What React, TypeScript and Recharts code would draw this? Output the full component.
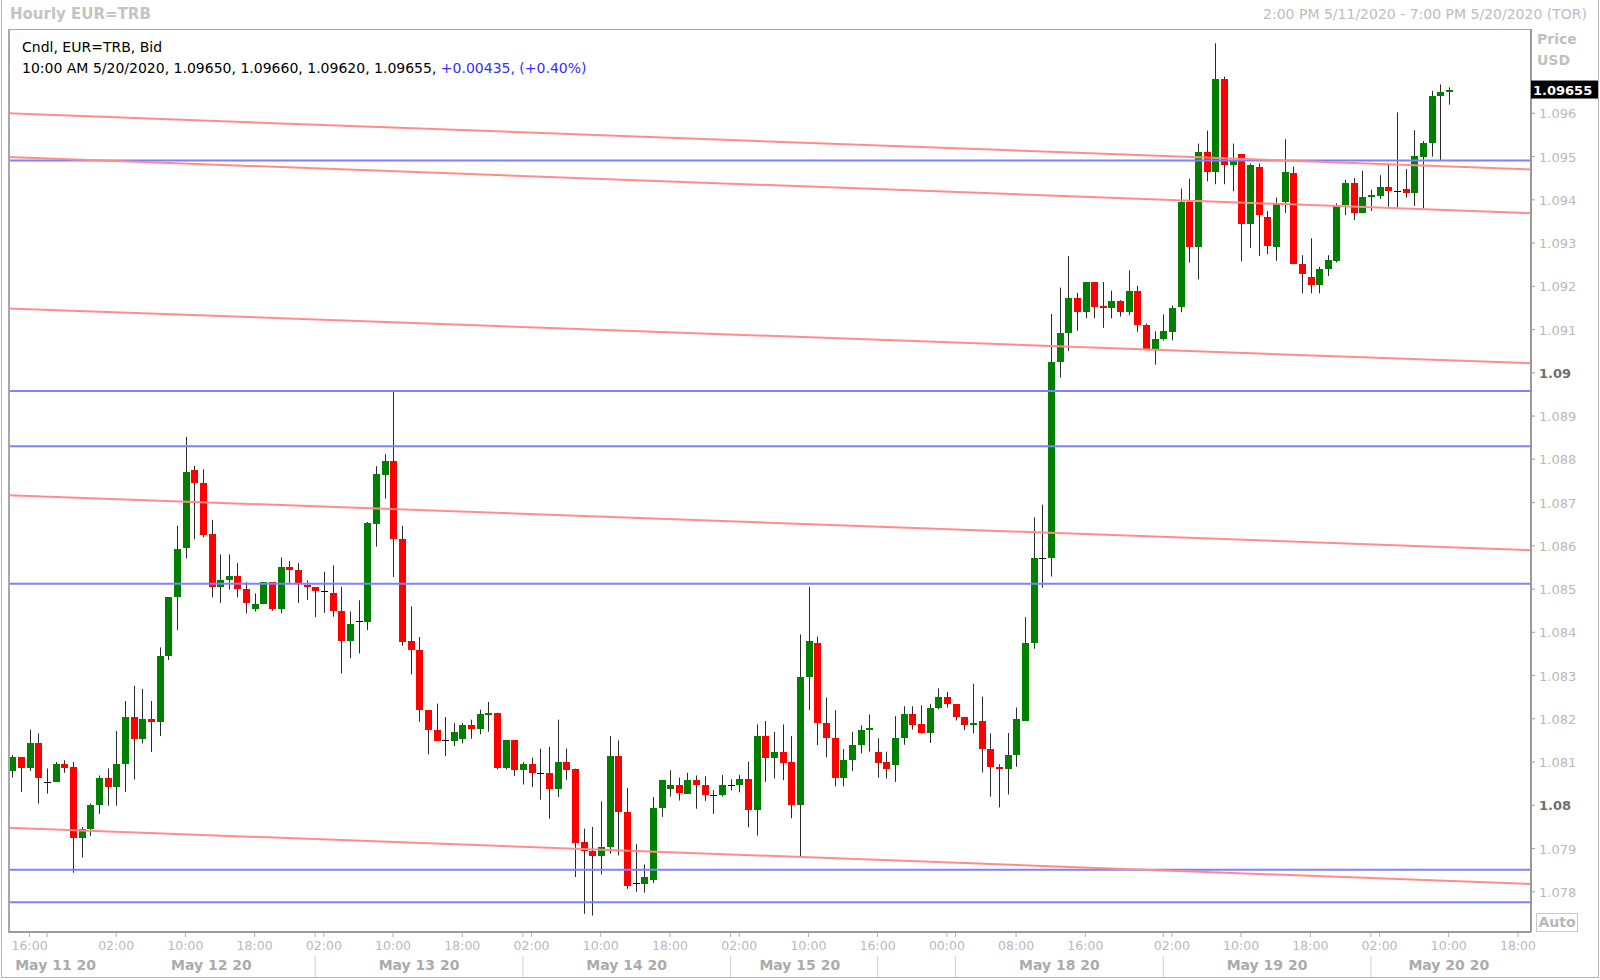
import React from 'react';
import { ComposedChart, Bar, XAxis, YAxis, ReferenceLine } from 'recharts';

// ---------- data ----------
const opens = [
  1.08079, 1.08111, 1.08087, 1.08143, 1.08055, 1.08055, 1.08095, 1.08089, 1.07925, 1.07946,
  1.08000, 1.08064, 1.08043, 1.08095, 1.08205, 1.08154, 1.08199, 1.08193, 1.08345, 1.08481,
  1.08594, 1.08775, 1.08745, 1.08627, 1.08505, 1.08520, 1.08530, 1.08500, 1.08453, 1.08465,
  1.08516, 1.08453, 1.08550, 1.08544, 1.08510, 1.08505, 1.08496, 1.08490, 1.08449, 1.08380,
  1.08426, 1.08424, 1.08650, 1.08763, 1.08796, 1.08615, 1.08379, 1.08360, 1.08220, 1.08175,
  1.08150, 1.08149, 1.08154, 1.08185, 1.08177, 1.08210, 1.08214, 1.08087, 1.08150, 1.08082,
  1.08095, 1.08075, 1.08075, 1.08038, 1.08100, 1.08085, 1.07914, 1.07894, 1.07883, 1.07904,
  1.08115, 1.07984, 1.07820, 1.07819, 1.07828, 1.07994, 1.08038, 1.08048, 1.08027, 1.08059,
  1.08048, 1.08024, 1.08024, 1.08048, 1.08048, 1.08060, 1.07989, 1.08160, 1.08110, 1.08124,
  1.08099, 1.08000, 1.08296, 1.08376, 1.08190, 1.08155, 1.08064, 1.08104, 1.08140, 1.08174,
  1.08124, 1.08099, 1.08094, 1.08155, 1.08210, 1.08187, 1.08166, 1.08226, 1.08250, 1.08234,
  1.08204, 1.08185, 1.08196, 1.08131, 1.08089, 1.08084, 1.08117, 1.08196, 1.08375, 1.08572,
  1.08572, 1.09025, 1.09091, 1.09174, 1.09140, 1.09209, 1.09155, 1.09150, 1.09166, 1.09140,
  1.09190, 1.09110, 1.09056, 1.09079, 1.09095, 1.09153, 1.09396, 1.09291, 1.09511, 1.09465,
  1.09680, 1.09480, 1.09505, 1.09345, 1.09476, 1.09361, 1.09290, 1.09394, 1.09461, 1.09251,
  1.09221, 1.09204, 1.09241, 1.09259, 1.09388, 1.09438, 1.09370, 1.09406, 1.09409, 1.09430,
  1.09420, 1.09425, 1.09416, 1.09500, 1.09531, 1.09640, 1.09650,
];
const highs = [
  1.08116, 1.08111, 1.08175, 1.08166, 1.08085, 1.08100, 1.08104, 1.08100, 1.07950, 1.08004,
  1.08069, 1.08085, 1.08172, 1.08241, 1.08276, 1.08269, 1.08241, 1.08365, 1.08481, 1.08646,
  1.08852, 1.08785, 1.08777, 1.08660, 1.08580, 1.08580, 1.08560, 1.08516, 1.08490, 1.08516,
  1.08516, 1.08573, 1.08565, 1.08560, 1.08520, 1.08505, 1.08540, 1.08555, 1.08505, 1.08448,
  1.08474, 1.08655, 1.08784, 1.08812, 1.08956, 1.08646, 1.08460, 1.08389, 1.08220, 1.08235,
  1.08204, 1.08190, 1.08190, 1.08198, 1.08221, 1.08239, 1.08214, 1.08150, 1.08150, 1.08100,
  1.08110, 1.08131, 1.08135, 1.08198, 1.08131, 1.08085, 1.07946, 1.07950, 1.08009, 1.08160,
  1.08150, 1.08040, 1.07910, 1.07863, 1.08019, 1.08059, 1.08081, 1.08064, 1.08075, 1.08069,
  1.08067, 1.08035, 1.08070, 1.08060, 1.08070, 1.08101, 1.08187, 1.08195, 1.08170, 1.08187,
  1.08160, 1.08395, 1.08505, 1.08390, 1.08249, 1.08220, 1.08130, 1.08170, 1.08185, 1.08210,
  1.08155, 1.08124, 1.08206, 1.08229, 1.08229, 1.08231, 1.08234, 1.08270, 1.08262, 1.08234,
  1.08204, 1.08281, 1.08251, 1.08166, 1.08095, 1.08167, 1.08226, 1.08435, 1.08666, 1.08695,
  1.09136, 1.09197, 1.09270, 1.09185, 1.09209, 1.09209, 1.09210, 1.09190, 1.09168, 1.09237,
  1.09201, 1.09114, 1.09096, 1.09135, 1.09156, 1.09426, 1.09449, 1.09530, 1.09560, 1.09762,
  1.09685, 1.09530, 1.09505, 1.09484, 1.09484, 1.09374, 1.09405, 1.09540, 1.09477, 1.09272,
  1.09311, 1.09245, 1.09272, 1.09392, 1.09446, 1.09450, 1.09467, 1.09423, 1.09457, 1.09484,
  1.09602, 1.09471, 1.09561, 1.09536, 1.09652, 1.09667, 1.09660,
];
const lows = [
  1.08064, 1.08031, 1.08079, 1.08004, 1.08027, 1.08055, 1.08075, 1.07844, 1.07879, 1.07929,
  1.07980, 1.07999, 1.07999, 1.08031, 1.08060, 1.08143, 1.08123, 1.08160, 1.08336, 1.08405,
  1.08571, 1.08615, 1.08620, 1.08481, 1.08468, 1.08499, 1.08481, 1.08444, 1.08448, 1.08465,
  1.08450, 1.08444, 1.08513, 1.08468, 1.08475, 1.08435, 1.08445, 1.08436, 1.08305, 1.08340,
  1.08351, 1.08405, 1.08598, 1.08709, 1.08528, 1.08369, 1.08303, 1.08193, 1.08118, 1.08149,
  1.08114, 1.08137, 1.08143, 1.08154, 1.08164, 1.08170, 1.08083, 1.08083, 1.08068, 1.08048,
  1.08042, 1.08013, 1.07969, 1.08019, 1.08059, 1.07834, 1.07749, 1.07745, 1.07840, 1.07888,
  1.07884, 1.07807, 1.07800, 1.07798, 1.07820, 1.07973, 1.08020, 1.08011, 1.08027, 1.07992,
  1.08010, 1.07980, 1.08020, 1.08034, 1.08030, 1.07949, 1.07930, 1.08054, 1.08062, 1.08058,
  1.07970, 1.07881, 1.08220, 1.08139, 1.08111, 1.08044, 1.08044, 1.08079, 1.08120, 1.08124,
  1.08064, 1.08062, 1.08054, 1.08140, 1.08175, 1.08166, 1.08144, 1.08222, 1.08226, 1.08196,
  1.08174, 1.08166, 1.08076, 1.08020, 1.07995, 1.08025, 1.08089, 1.08196, 1.08362, 1.08503,
  1.08529, 1.08989, 1.09050, 1.09097, 1.09126, 1.09126, 1.09104, 1.09126, 1.09130, 1.09133,
  1.09095, 1.09056, 1.09019, 1.09075, 1.09075, 1.09140, 1.09255, 1.09216, 1.09443, 1.09436,
  1.09436, 1.09420, 1.09258, 1.09289, 1.09270, 1.09274, 1.09259, 1.09370, 1.09251, 1.09184,
  1.09184, 1.09184, 1.09224, 1.09255, 1.09365, 1.09353, 1.09369, 1.09374, 1.09402, 1.09384,
  1.09382, 1.09405, 1.09386, 1.09380, 1.09500, 1.09492, 1.09620,
];
const closes = [
  1.08111, 1.08087, 1.08143, 1.08064, 1.08055, 1.08095, 1.08087, 1.07925, 1.07946, 1.08001,
  1.08064, 1.08043, 1.08095, 1.08205, 1.08154, 1.08199, 1.08193, 1.08345, 1.08481, 1.08592,
  1.08770, 1.08745, 1.08625, 1.08505, 1.08520, 1.08530, 1.08499, 1.08468, 1.08465, 1.08516,
  1.08453, 1.08550, 1.08544, 1.08513, 1.08505, 1.08496, 1.08496, 1.08449, 1.08380, 1.08419,
  1.08426, 1.08652, 1.08765, 1.08796, 1.08615, 1.08378, 1.08359, 1.08220, 1.08173, 1.08149,
  1.08150, 1.08170, 1.08185, 1.08177, 1.08210, 1.08214, 1.08087, 1.08150, 1.08082, 1.08095,
  1.08075, 1.08075, 1.08038, 1.08100, 1.08082, 1.07913, 1.07894, 1.07883, 1.07904, 1.08115,
  1.07984, 1.07813, 1.07820, 1.07834, 1.07994, 1.08059, 1.08048, 1.08028, 1.08059, 1.08048,
  1.08024, 1.08024, 1.08048, 1.08048, 1.08060, 1.07989, 1.08160, 1.08110, 1.08124, 1.08098,
  1.08000, 1.08296, 1.08380, 1.08190, 1.08155, 1.08064, 1.08104, 1.08140, 1.08174, 1.08178,
  1.08098, 1.08083, 1.08155, 1.08210, 1.08186, 1.08166, 1.08226, 1.08250, 1.08234, 1.08204,
  1.08185, 1.08190, 1.08130, 1.08089, 1.08084, 1.08117, 1.08200, 1.08375, 1.08572, 1.08572,
  1.09025, 1.09091, 1.09174, 1.09140, 1.09209, 1.09153, 1.09149, 1.09166, 1.09140, 1.09190,
  1.09110, 1.09056, 1.09079, 1.09096, 1.09150, 1.09396, 1.09291, 1.09511, 1.09465, 1.09680,
  1.09480, 1.09490, 1.09345, 1.09480, 1.09365, 1.09294, 1.09390, 1.09465, 1.09251, 1.09228,
  1.09204, 1.09241, 1.09260, 1.09388, 1.09438, 1.09370, 1.09406, 1.09411, 1.09430, 1.09420,
  1.09420, 1.09416, 1.09501, 1.09531, 1.09640, 1.09650, 1.09655,
];

// number of hourly slots on the axis (candles + empty future slots)
const SLOT_COUNT = 176;

const timeTickIdx = [2, 12, 20, 28, 36, 44, 52, 60, 68, 76, 84, 92, 100, 108, 116, 124, 134, 142, 150, 158, 166, 174];
const timeTickLabels = ['16:00', '02:00', '10:00', '18:00', '02:00', '10:00', '18:00', '02:00', '10:00', '18:00', '02:00', '10:00', '16:00', '00:00', '08:00', '16:00', '02:00', '10:00', '18:00', '02:00', '10:00', '18:00'];
const sessionTickIdx = [4, 35, 59, 83, 100, 109, 133, 157];
const daySeparatorIdx = [35, 59, 83, 100, 109, 133, 157];
const dateLabelIdx = [5, 23, 47, 71, 91, 121, 145, 166];
const dateLabels = ['May 11 20', 'May 12 20', 'May 13 20', 'May 14 20', 'May 15 20', 'May 18 20', 'May 19 20', 'May 20 20'];

const priceTicks = [1.078, 1.079, 1.08, 1.081, 1.082, 1.083, 1.084, 1.085, 1.086, 1.087, 1.088, 1.089, 1.09, 1.091, 1.092, 1.093, 1.094, 1.095, 1.096];
const boldPriceTicks = [1.08, 1.09];
const priceDomain = [1.07707, 1.09795];

const blueLevels = [1.09491, 1.08958, 1.0883, 1.08512, 1.07851, 1.07776];
const redLineStart = [1.096, 1.09499, 1.09149, 1.08717, 1.07948];
const redLineEnd = [1.0947, 1.09369, 1.09022, 1.0859, 1.07818];

const lastIdx = closes.length - 1;
const lastClose = closes[lastIdx];

// ---------- derived table ----------
const rows = Array.from({ length: SLOT_COUNT }, (_, i) =>
  i < opens.length
    ? { i, range: [lows[i], highs[i]], o: opens[i], h: highs[i], l: lows[i], c: closes[i] }
    : { i, range: null }
);

const FONT = "'DejaVu Sans', Verdana, sans-serif";
const GREEN = '#008000';
const RED = '#ff0000';
const BLUE_LINE = '#7f7fff';
const RED_LINE = '#ff8c8c';

const Candle = (props: any) => {
  const { x, y, width, height, payload } = props;
  if (!payload || payload.o == null) return null;
  const { o, h, l, c } = payload;
  const top = Math.min(y, y + height);
  const bottom = Math.max(y, y + height);
  const span = h - l;
  const toPx = (v: number) => (span > 0 ? top + ((h - v) / span) * (bottom - top) : top);
  const cx = Math.round(x + width / 2);
  const bTop = Math.round(toPx(Math.max(o, c)));
  const bBot = Math.round(toPx(Math.min(o, c)));
  const flat = Math.abs(c - o) < 0.00003;
  return (
    <g>
      <line x1={cx + 0.5} x2={cx + 0.5} y1={top} y2={bottom} stroke="#2a2a2a" strokeWidth={1} />
      {flat ? (
        <rect x={cx - 3} y={bTop} width={7} height={1} fill="#000" />
      ) : (
        <rect x={cx - 3} y={bTop} width={7} height={Math.max(2, bBot - bTop)} fill={c >= o ? GREEN : RED} />
      )}
    </g>
  );
};

// one axis below the plot carries both rows: hours and dates
const AxisTick = (props: any) => {
  const { x, y, payload } = props;
  const v = payload.value;
  const tk = timeTickIdx.indexOf(v);
  const dk = dateLabelIdx.indexOf(v);
  const isTickMark = tk >= 0 || sessionTickIdx.includes(v);
  const isSep = daySeparatorIdx.includes(v);
  return (
    <g>
      {isTickMark && <line x1={x} x2={x} y1={y + 1} y2={y + 5} stroke="#b0b0b0" />}
      {tk >= 0 && (
        <text x={x} y={y + 18} textAnchor="middle" fontFamily={FONT} fontSize={12.5} fill="#b9b9b9">
          {timeTickLabels[tk]}
        </text>
      )}
      {isSep && <line x1={x} x2={x} y1={y + 24} y2={y + 45} stroke="#d0d0d0" />}
      {dk >= 0 && (
        <text x={x} y={y + 38} textAnchor="middle" fontFamily={FONT} fontSize={14} fontWeight="bold" fill="#ababab">
          {dateLabels[dk]}
        </text>
      )}
    </g>
  );
};

const PriceTick = (props: any) => {
  const { x, y, payload } = props;
  const v = payload.value;
  if (v === lastClose) {
    return (
      <g>
        <rect x={x} y={y - 9} width={68} height={18} fill="#000" />
        <text x={x + 2} y={y + 5} fontFamily={FONT} fontSize={13} fontWeight="bold" fill="#fff">
          {v.toFixed(5)}
        </text>
      </g>
    );
  }
  const bold = boldPriceTicks.includes(v);
  return (
    <g>
      <line x1={x} x2={x + 4} y1={y} y2={y} stroke="#a0a0a0" />
      <text
        x={x + 8}
        y={y + 5}
        fontFamily={FONT}
        fontSize={13}
        fontWeight={bold ? 'bold' : 'normal'}
        fill={bold ? '#6e6e6e' : '#b9b9b9'}
      >
        {parseFloat(v.toFixed(3)).toString()}
      </text>
    </g>
  );
};

const fmt = (v: number) => v.toFixed(5);

export default function App() {
  const axisTicks = Array.from(
    new Set([...timeTickIdx, ...sessionTickIdx, ...daySeparatorIdx, ...dateLabelIdx])
  ).sort((a, b) => a - b);
  return (
    <div
      style={{
        position: 'absolute',
        left: 0,
        top: 0,
        width: 1600,
        height: 980,
        background: '#fff',
        fontFamily: FONT,
        overflow: 'hidden',
      }}
    >
      <ComposedChart width={1600} height={980} data={rows} margin={{ top: 29, right: 0, bottom: 0, left: 8 }}>
        <XAxis
          xAxisId="n"
          dataKey="i"
          type="number"
          domain={[-0.5, SLOT_COUNT - 0.5]}
          allowDataOverflow
          hide
          height={0}
        />
        <XAxis
          xAxisId="t"
          dataKey="i"
          type="category"
          ticks={axisTicks}
          interval={0}
          tick={<AxisTick />}
          tickSize={0}
          tickMargin={0}
          tickLine={false}
          height={48}
          axisLine={{ stroke: '#9a9a9a', strokeWidth: 2 }}
        />
        <YAxis
          orientation="right"
          type="number"
          width={69}
          domain={priceDomain}
          allowDataOverflow
          ticks={[...priceTicks, lastClose]}
          interval={0}
          tick={<PriceTick />}
          tickSize={0}
          tickMargin={0}
          tickLine={false}
          axisLine={{ stroke: '#9a9a9a', strokeWidth: 2 }}
        />
        <Bar xAxisId="t" dataKey="range" barSize={7} shape={<Candle />} isAnimationActive={false} />
        {blueLevels.map((v, k) => (
          <ReferenceLine key={'b' + k} xAxisId="n" y={v} stroke={BLUE_LINE} strokeWidth={2} />
        ))}
        {redLineStart.map((v, k) => (
          <ReferenceLine
            key={'r' + k}
            xAxisId="n"
            segment={[
              { x: -0.5, y: v },
              { x: SLOT_COUNT - 0.5, y: redLineEnd[k] },
            ]}
            stroke={RED_LINE}
            strokeWidth={2}
          />
        ))}
      </ComposedChart>

      {/* plot frame (left / top) */}
      <div
        style={{
          position: 'absolute',
          left: 8,
          top: 29,
          width: 1522,
          height: 902,
          borderLeft: '2px solid #a8a8a8',
          borderTop: '1px solid #a8a8a8',
          pointerEvents: 'none',
        }}
      />
      {/* outer frame */}
      <div
        style={{
          position: 'absolute',
          left: 1,
          top: 0,
          width: 1596,
          height: 977,
          border: '1px solid #b4b4b4',
          borderTop: 'none',
          pointerEvents: 'none',
        }}
      />

      <div style={{ position: 'absolute', left: 10, top: 5, fontSize: 15, fontWeight: 'bold', color: '#c3c3c3' }}>
        Hourly EUR=TRB
      </div>
      <div style={{ position: 'absolute', right: 13, top: 6, fontSize: 14, color: '#bdbdbd' }}>
        2:00 PM 5/11/2020 - 7:00 PM 5/20/2020 (TOR)
      </div>

      <div style={{ position: 'absolute', left: 22, top: 37, fontSize: 14, color: '#000', lineHeight: '21px' }}>
        <div>Cndl, EUR=TRB, Bid</div>
        <div>
          10:00 AM 5/20/2020, {fmt(opens[lastIdx])}, {fmt(highs[lastIdx])}, {fmt(lows[lastIdx])}, {fmt(closes[lastIdx])},{' '}
          <span style={{ color: '#3030ff' }}>+0.00435, (+0.40%)</span>
        </div>
      </div>

      <div style={{ position: 'absolute', left: 1537, top: 29, fontSize: 14, fontWeight: 'bold', color: '#c0c0c0', lineHeight: '21px' }}>
        <div>Price</div>
        <div>USD</div>
      </div>

      <div
        style={{
          position: 'absolute',
          left: 1536,
          top: 913,
          width: 40,
          height: 17,
          border: '1px solid #c8c8c8',
          fontSize: 14,
          fontWeight: 'bold',
          color: '#b8b8b8',
          textAlign: 'center',
          lineHeight: '17px',
        }}
      >
        Auto
      </div>
    </div>
  );
}
